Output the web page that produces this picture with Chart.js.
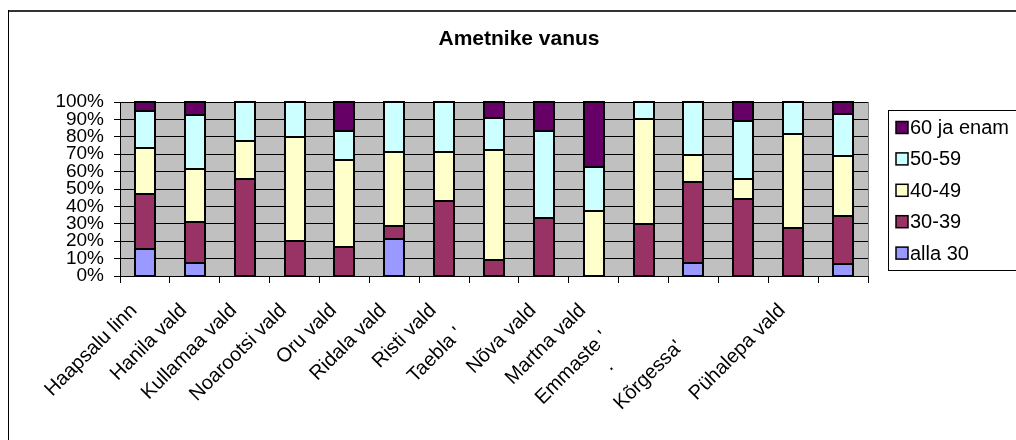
<!DOCTYPE html>
<html>
<head>
<meta charset="utf-8">
<script src="https://cdn.jsdelivr.net/npm/chart.js@4/dist/chart.umd.min.js"></script>
<style>
  html, body { margin: 0; padding: 0; background: #fff; }
  canvas { display: block; }
</style>
</head>
<body>
<canvas id="c" width="1016" height="440"></canvas>
<script>
// Ametnike vanuseline jaotus omavalitsuste kaupa (protsentides)
const chartTitle = 'Ametnike vanus';
const categories = [
  'Haapsalu linn', 'Hanila vald', 'Kullamaa vald', 'Noarootsi vald', 'Oru vald',
  'Ridala vald', 'Risti vald', "Taebla '", 'Nõva vald', 'Martna vald',
  ["Emmaste '", '.'], "Kõrgessa'", '', 'Pühalepa vald', ''
];
const seriesNames = ['alla 30', '30-39', '40-49', '50-59', '60 ja enam'];
const alla30   = [15.8,  7.7,  0.0,  0,  0.0, 21.4,  0.0,  0.0,  0.0,  0.0,  0,  7.7,  0.0,  0.0,  6.9];
const age30_39 = [31.6, 23.1, 55.6, 20, 16.7,  7.2, 42.9,  9.1, 33.3,  0.0, 30, 46.2, 44.4, 27.3, 27.6];
const age40_49 = [26.3, 30.8, 22.2, 60, 50.0, 42.8, 28.5, 63.6,  0.0, 37.5, 60, 15.4, 11.1, 54.5, 34.5];
const age50_59 = [21.0, 30.8, 22.2, 20, 16.6, 28.6, 28.6, 18.2, 50.0, 25.0, 10, 30.7, 33.4, 18.2, 24.1];
const age60up  = [ 5.3,  7.6,  0.0,  0, 16.7,  0.0,  0.0,  9.1, 16.7, 37.5,  0,  0.0, 11.1,  0.0,  6.9];
const yTicks = [0, 10, 20, 30, 40, 50, 60, 70, 80, 90, 100];

const seriesValues = [alla30, age30_39, age40_49, age50_59, age60up];
const seriesColors = ['#9999FF', '#993366', '#FFFFCC', '#CCFFFF', '#660066'];

// clipped category labels sit lower along their slant than the full ones
const tailSpaces = { 7: 6, 10: 7, 11: 5 };
const secondLineSpaces = { 10: 10 };
const leadLines = { 11: 1 };

const FONT = "'Liberation Sans', Arial, sans-serif";

// black outline around every stacked segment, stroked on the segment edges
const segmentOutlines = {
  id: 'segmentOutlines',
  afterDatasetsDraw(chart) {
    const { ctx } = chart;
    ctx.save();
    ctx.strokeStyle = '#000';
    ctx.lineWidth = 2;
    chart.data.datasets.forEach((d, i) => {
      chart.getDatasetMeta(i).data.forEach(bar => {
        const { x, y, base, width } = bar.getProps(['x', 'y', 'base', 'width'], true);
        const top = Math.round(Math.min(y, base));
        const bottom = Math.round(Math.max(y, base));
        if (bottom - top < 1) return;
        const left = Math.round(x - width / 2);
        const right = Math.round(x + width / 2);
        ctx.strokeRect(left, top, right - left, bottom - top);
      });
    });
    ctx.restore();
  }
};

const frameAndLegend = {
  id: 'frameAndLegend',
  beforeDraw(chart) {
    const { ctx, chartArea: a } = chart;
    ctx.save();
    ctx.fillStyle = '#C0C0C0';
    ctx.fillRect(a.left, a.top, a.right - a.left, a.bottom - a.top);
    ctx.restore();
  },
  afterDraw(chart) {
    const { ctx, chartArea: a } = chart;
    ctx.save();
    // right edge of the plot
    ctx.strokeStyle = '#808080';
    ctx.lineWidth = 1;
    ctx.beginPath();
    ctx.moveTo(a.right + 0.5, a.top);
    ctx.lineTo(a.right + 0.5, a.bottom);
    ctx.stroke();

    // outer frame
    ctx.strokeStyle = '#333';
    ctx.lineWidth = 2;
    ctx.beginPath();
    ctx.moveTo(8, 11);
    ctx.lineTo(1016, 11);
    ctx.stroke();
    ctx.strokeStyle = '#000';
    ctx.lineWidth = 1;
    ctx.beginPath();
    ctx.moveTo(8.5, 10);
    ctx.lineTo(8.5, 440);
    ctx.stroke();

    // title
    ctx.fillStyle = '#000';
    ctx.font = 'bold 21px ' + FONT;
    ctx.textAlign = 'center';
    ctx.textBaseline = 'alphabetic';
    ctx.fillText(chartTitle, 519, 45);

    // legend
    const lx = a.right + 20, ly = 110, lh = 160;
    ctx.strokeStyle = '#000';
    ctx.lineWidth = 1;
    ctx.strokeRect(lx + 0.5, ly + 0.5, 1016 - lx + 10, lh);
    ctx.font = '20px ' + FONT;
    ctx.textAlign = 'left';
    ctx.textBaseline = 'middle';
    const ds = chart.data.datasets;
    for (let i = 0; i < ds.length; i++) {
      const d = ds[ds.length - 1 - i];
      const cy = ly + 17.5 + i * 31.4;
      ctx.fillStyle = d.backgroundColor;
      ctx.fillRect(lx + 8, cy - 6, 12, 12);
      ctx.lineWidth = 1.5;
      ctx.strokeStyle = '#000';
      ctx.strokeRect(lx + 8, cy - 6, 12, 12);
      ctx.fillStyle = '#000';
      ctx.fillText(d.label, lx + 22, cy + 1);
    }
    ctx.restore();
  }
};

new Chart(document.getElementById('c'), {
  type: 'bar',
  data: {
    labels: categories,
    datasets: seriesNames.map((name, i) => ({
      label: name,
      data: seriesValues[i],
      backgroundColor: seriesColors[i],
      borderWidth: 0,
      barPercentage: 0.8,
      categoryPercentage: 0.5
    }))
  },
  options: {
    responsive: false,
    animation: false,
    devicePixelRatio: 1,
    layout: { padding: { top: 102, right: 148, left: 0, bottom: 0 } },
    plugins: {
      legend: { display: false },
      title: { display: false },
      tooltip: { enabled: false }
    },
    scales: {
      x: {
        stacked: true,
        afterFit(scale) { scale.height = 164; },
        grid: {
          offset: true,
          drawOnChartArea: false,
          drawTicks: true,
          tickLength: 7,
          color: '#000'
        },
        border: { display: true, color: '#000', width: 1 },
        ticks: {
          autoSkip: false,
          minRotation: 45,
          maxRotation: 45,
          padding: 16,
          labelOffset: -11,
          color: '#000',
          font: { family: FONT, size: 20 },
          callback(value, index) {
            const raw = categories[index];
            const lines = Array.isArray(raw) ? raw.slice() : [raw];
            const pad = ' '.repeat(tailSpaces[index] || 0);
            const pad2 = ' '.repeat(secondLineSpaces[index] || 0);
            let out = lines.map((l, k) => k === 0 ? l + pad : l + pad2);
            if (leadLines[index]) out = Array(leadLines[index]).fill('').concat(out);
            return out.length === 1 ? out[0] : out;
          }
        }
      },
      y: {
        stacked: true,
        min: 0,
        max: 100,
        afterFit(scale) { scale.width = 120; },
        afterBuildTicks(scale) { scale.ticks = yTicks.map(v => ({ value: v })); },
        grid: { color: '#000', lineWidth: 1, tickLength: 6, drawTicks: true },
        border: { display: true, color: '#000', width: 1 },
        ticks: {
          autoSkip: false,
          padding: 10,
          color: '#000',
          font: { family: FONT, size: 19 },
          callback: v => v + '%'
        }
      }
    }
  },
  plugins: [segmentOutlines, frameAndLegend]
});
</script>
</body>
</html>
